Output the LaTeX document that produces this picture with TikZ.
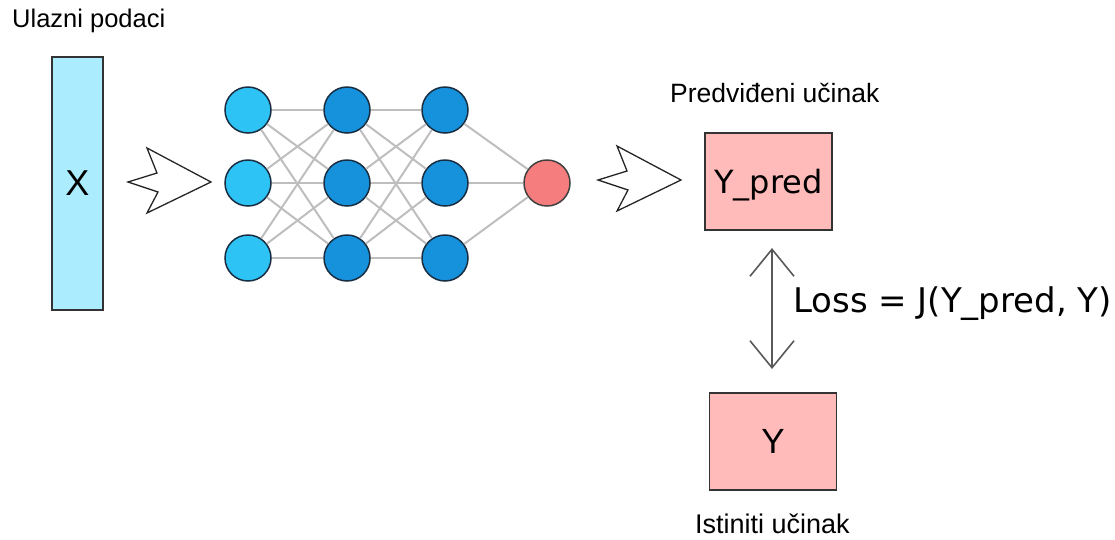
\documentclass[tikz,border=0pt]{standalone}
\usepackage{fontspec}
\setmainfont{Liberation Sans}
\newfontfamily\dejavu{DejaVu Sans}
\usetikzlibrary{arrows.meta}
\definecolor{inblue}{RGB}{45,195,245}
\definecolor{hidblue}{RGB}{22,145,220}
\definecolor{outred}{RGB}{245,125,125}
\definecolor{boxpink}{RGB}{255,186,186}
\definecolor{xcyan}{RGB}{172,236,255}
\definecolor{edgegray}{RGB}{190,190,190}
\definecolor{ringdark}{RGB}{25,45,65}
\tikzset{
  neuron/.style={circle, minimum size=46pt, inner sep=0pt, draw=ringdark, line width=1.5pt},
  inneuron/.style={neuron, fill=inblue},
  hidneuron/.style={neuron, fill=hidblue},
  outneuron/.style={neuron, fill=outred, draw=black!75},
  synapse/.style={draw=edgegray, line width=2pt},
  resultbox/.style={draw=black!80, line width=1.4pt, fill=boxpink, minimum width=127pt, minimum height=97pt, inner sep=0pt},
  label/.style={inner sep=0pt, font=\fontsize{25.5}{30}\selectfont},
  jagged/.style={draw=black!85, line width=1.3pt, fill=white, line join=miter},
  lossarrow/.style={draw=black!65, line width=2pt, {Straight Barb[length=27pt,width=44pt,line width=1.6pt]}-{Straight Barb[length=27pt,width=44pt,line width=1.6pt]}}
}
\begin{document}
\begin{tikzpicture}[x=1pt,y=-1pt]
\useasboundingbox (0,0) rectangle (1115,539);
% input
\node[label, anchor=base west] (inlabel) at (12,27) {Ulazni podaci};
\node[draw=black!80, line width=1.4pt, fill=xcyan, minimum width=51pt, minimum height=253pt, inner sep=0pt,
      font=\fontsize{36}{40}\selectfont] (xbox) at (77.5,183.5) {X};
% jagged arrows
\coordinate (tip1) at (211,182);
\coordinate (tip2) at (681,180);
\foreach \t in {tip1,tip2}{
  \draw[jagged] (\t) -- ++(-64,-34) -- ++(10,25) -- ++(-29,9) -- ++(30,10) -- ++(-11,21) -- cycle;
}
% network
\foreach \i/\y in {1/110,2/183,3/258}{
  \node[inneuron] (a\i) at (248,\y) {};
  \node[hidneuron] (b\i) at (347,\y) {};
  \node[hidneuron] (c\i) at (445,\y) {};
}
\node[outneuron] (o) at (547,183) {};
\foreach \i in {1,2,3}{
  \foreach \j in {1,2,3}{
    \draw[synapse] (a\i) -- (b\j);
    \draw[synapse] (b\i) -- (c\j);
  }
  \draw[synapse] (c\i) -- (o);
}
% outputs
\node[label, anchor=base west, font=\fontsize{26.5}{31}\selectfont] (predlabel) at (670,102) {Predviđeni učinak};
\node[resultbox, font=\dejavu\fontsize{32}{36}\selectfont, text depth=0pt] (ypred) at (768.5,181.5) {Y\_pred};
\node[resultbox, font=\fontsize{35}{40}\selectfont] (ytrue) at (773,441.5) {Y};
\node[label, anchor=base west, font=\fontsize{27}{32}\selectfont] (truelabel) at (695,533) {Istiniti učinak};
\coordinate (atop) at (772,248);
\coordinate (abot) at (772,369);
\draw[lossarrow] (atop) -- (abot);
\node[inner sep=0pt, anchor=base west, font=\dejavu\fontsize{34}{40}\selectfont] (loss) at (793,312) {Loss = J(Y\_pred, Y)};
\end{tikzpicture}
\end{document}
